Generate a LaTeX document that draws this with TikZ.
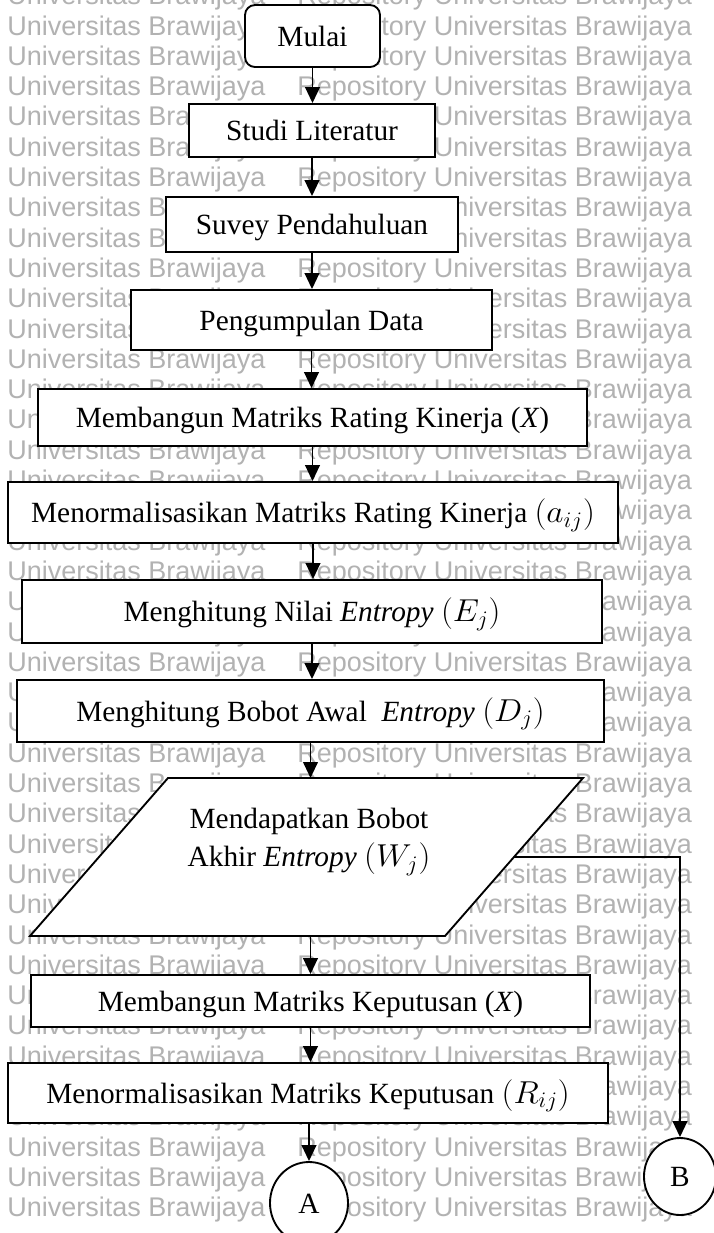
\RequirePackage{fix-cm}
\documentclass[tikz,border=0pt]{standalone}
\usepackage{graphicx}
\usepackage{fontspec}
\setmainfont{Liberation Serif}
\newfontfamily\wmfont{Liberation Sans}
\usetikzlibrary{arrows.meta,shapes.geometric}
\definecolor{wmgray}{RGB}{178,178,178}
% symbols set slightly wider than the surrounding serif text
\newcommand\symb[1]{\scalebox{1.14}[1.08]{$#1$}}

\begin{document}
\begin{tikzpicture}[x=0.75pt,y=-0.75pt,
  wm/.style={font=\wmfont\fontsize{20.25}{24}\selectfont, text=wmgray, inner sep=0pt, anchor=base west},
  box/.style={draw, line width=1.4pt, fill=white, inner sep=0pt,
              font=\fontsize{22}{28.5}\selectfont, text height=15pt, text depth=0pt},
  label/.style={inner sep=0pt, font=\fontsize{22}{28.5}\selectfont, align=center,
              text height=15pt, text depth=0.5pt},
  outline/.style={draw, line width=1.4pt, fill=white},
  flow/.style={line width=1.4pt, -{Triangle[length=12pt,width=11pt]}},
]
\useasboundingbox[fill=white] (0,0) rectangle (714,1233);

% background watermark rows
\foreach \k in {-1,...,39}{
  \node[wm] (wl\k) at (7,{35+30.3*\k}) {Universitas Brawijaya};
  \node[wm] (wr\k) at (297,{35+30.3*\k}) {Repository Universitas Brawijaya};
}

% process steps
\node[box, rounded corners=7.5pt, minimum width=101.25pt, minimum height=46.5pt] (mulai) at (312.5,36) {Mulai};
\node[box, minimum width=184.5pt, minimum height=39.75pt] (studi) at (312,130.5) {Studi Literatur};
\node[box, minimum width=219pt, minimum height=41.25pt] (survei) at (312,224.5) {Suvey Pendahuluan};
\node[box, minimum width=270.75pt, minimum height=45pt] (data) at (311.5,320) {Pengumpulan Data};
\node[box, minimum width=411.75pt, minimum height=42.75pt] (rating) at (312.5,417.5) {Membangun Matriks Rating Kinerja (\textit{X})};
\node[box, minimum width=457.5pt, minimum height=45.75pt] (normrating) at (313,512.5) {Menormalisasikan Matriks Rating Kinerja \symb{(a_{ij})}};
\node[box, minimum width=435pt, minimum height=47.25pt] (nilai) at (312,611.5) {Menghitung Nilai \textit{Entropy} \symb{(E_j)}};
\node[box, minimum width=440.25pt, minimum height=46.5pt] (awal) at (310.5,711) {Menghitung Bobot Awal\ \ \textit{Entropy} \symb{(D_j)}};

% data (parallelogram) step
\coordinate (pTL) at (168,778);
\coordinate (pTR) at (583,778);
\coordinate (pBR) at (445,936);
\coordinate (pBL) at (30,936);
\coordinate (pIn) at (310.5,778);
\coordinate (pOut) at (310.5,936);
\coordinate (pEast) at (514,857);
\draw[outline] (pTL) -- (pTR) -- (pBR) -- (pBL) -- cycle;
\node[label] (akhir) at (309,857) {Mendapatkan Bobot\\Akhir \textit{Entropy} \symb{(W_j)}};

\node[box, minimum width=419.25pt, minimum height=39pt] (keputusan) at (310.5,1001) {Membangun Matriks Keputusan (\textit{X})};
\node[box, minimum width=450pt, minimum height=45pt] (normkep) at (308,1093) {Menormalisasikan Matriks Keputusan \symb{(R_{ij})}};

% off-page connectors
\node[box, ellipse, minimum width=58.5pt, minimum height=61.5pt] (A) at (309,1203) {A};
\node[box, ellipse, minimum width=54pt, minimum height=57.75pt] (B) at (680,1176.5) {B};

% flow lines
\draw[flow] (mulai.south) -- (mulai.south |- studi.north);
\draw[flow] (studi.south) -- (studi.south |- survei.north);
\draw[flow] (survei.south) -- (survei.south |- data.north);
\draw[flow] (data.south) -- (data.south |- rating.north);
\draw[flow] (rating.south) -- (rating.south |- normrating.north);
\draw[flow] (normrating.south) -- (normrating.south |- nilai.north);
\draw[flow] (nilai.south) -- (nilai.south |- awal.north);
\draw[flow] (awal.south) -- (pIn);
\draw[flow] (pOut) -- (pOut |- keputusan.north);
\draw[flow] (keputusan.south) -- (keputusan.south |- normkep.north);
\draw[flow] (normkep.south -| A.north) -- (A.north);
\draw[flow] (pEast) -| (B.north);
\end{tikzpicture}
\end{document}
